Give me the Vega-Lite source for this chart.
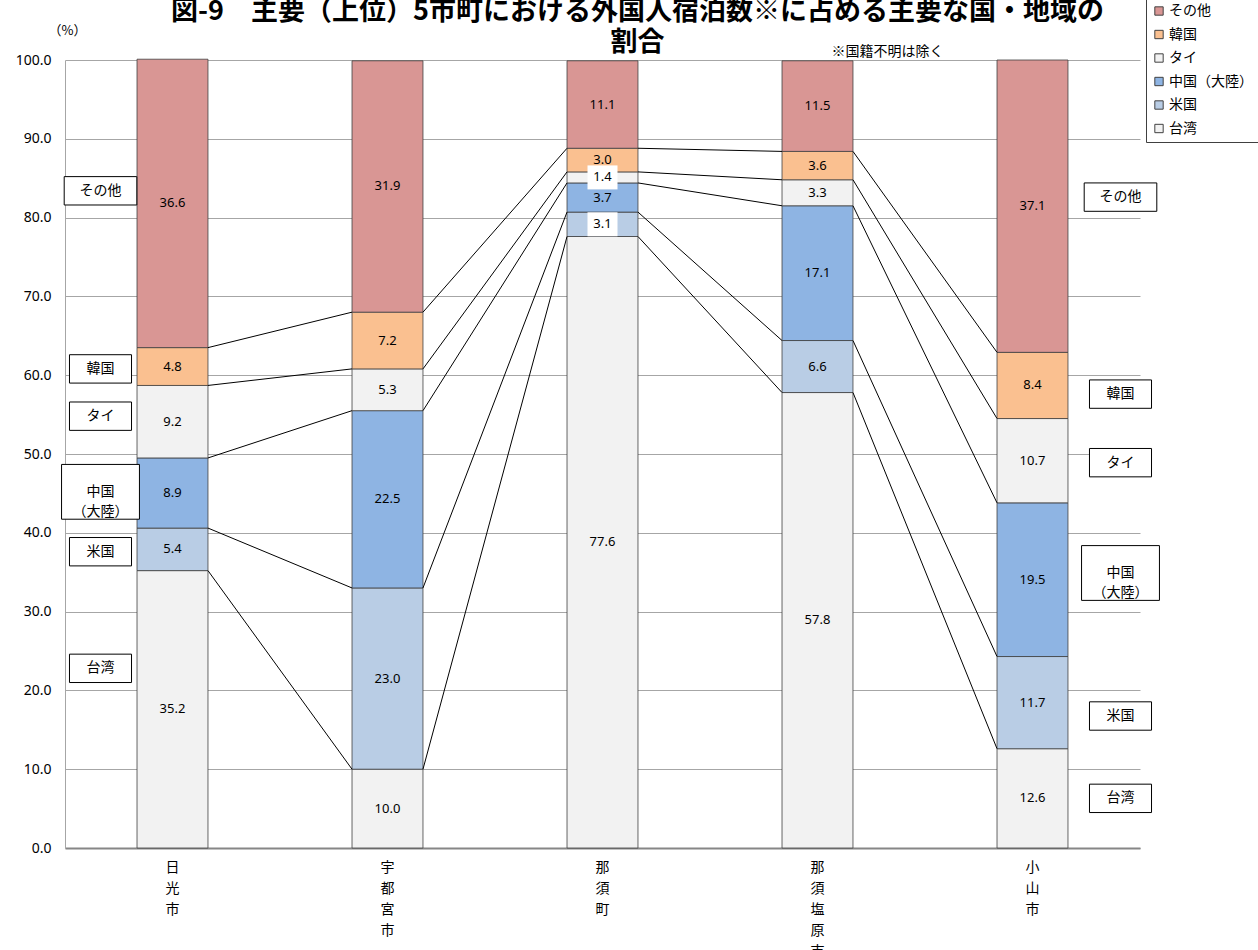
{
  "$schema": "https://vega.github.io/schema/vega-lite/v6.json",
  "width": 1075,
  "height": 788,
  "autosize": "none",
  "padding": {"left": 65, "top": 60, "right": 118, "bottom": 102},
  "background": "white",
  "config": {
    "view": {"stroke": null},
    "font": "Noto Sans CJK JP",
    "text": {"lineBreak": "\n"}
  },
  "title": {
    "text": ["図-9　主要（上位）5市町における外国人宿泊数※に占める主要な国・地域の", "割合"],
    "fontSize": 27,
    "font": "Noto Sans CJK JP",
    "fontWeight": "bold",
    "lineHeight": 31,
    "offset": 4,
    "frame": "group",
    "anchor": "middle",
    "dx": 35,
    "dy": 63,
    "color": "#000000"
  },
  "datasets": {
    "shares": [
      {"city": "日光市", "ci": 0, "series": "台湾", "si": 0, "value": 35.2},
      {"city": "日光市", "ci": 0, "series": "米国", "si": 1, "value": 5.4},
      {"city": "日光市", "ci": 0, "series": "中国（大陸）", "si": 2, "value": 8.9},
      {"city": "日光市", "ci": 0, "series": "タイ", "si": 3, "value": 9.2},
      {"city": "日光市", "ci": 0, "series": "韓国", "si": 4, "value": 4.8},
      {"city": "日光市", "ci": 0, "series": "その他", "si": 5, "value": 36.6},
      {"city": "宇都宮市", "ci": 1, "series": "台湾", "si": 0, "value": 10.0},
      {"city": "宇都宮市", "ci": 1, "series": "米国", "si": 1, "value": 23.0},
      {"city": "宇都宮市", "ci": 1, "series": "中国（大陸）", "si": 2, "value": 22.5},
      {"city": "宇都宮市", "ci": 1, "series": "タイ", "si": 3, "value": 5.3},
      {"city": "宇都宮市", "ci": 1, "series": "韓国", "si": 4, "value": 7.2},
      {"city": "宇都宮市", "ci": 1, "series": "その他", "si": 5, "value": 31.9},
      {"city": "那須町", "ci": 2, "series": "台湾", "si": 0, "value": 77.6},
      {"city": "那須町", "ci": 2, "series": "米国", "si": 1, "value": 3.1},
      {"city": "那須町", "ci": 2, "series": "中国（大陸）", "si": 2, "value": 3.7},
      {"city": "那須町", "ci": 2, "series": "タイ", "si": 3, "value": 1.4},
      {"city": "那須町", "ci": 2, "series": "韓国", "si": 4, "value": 3.0},
      {"city": "那須町", "ci": 2, "series": "その他", "si": 5, "value": 11.1},
      {"city": "那須塩原市", "ci": 3, "series": "台湾", "si": 0, "value": 57.8},
      {"city": "那須塩原市", "ci": 3, "series": "米国", "si": 1, "value": 6.6},
      {"city": "那須塩原市", "ci": 3, "series": "中国（大陸）", "si": 2, "value": 17.1},
      {"city": "那須塩原市", "ci": 3, "series": "タイ", "si": 3, "value": 3.3},
      {"city": "那須塩原市", "ci": 3, "series": "韓国", "si": 4, "value": 3.6},
      {"city": "那須塩原市", "ci": 3, "series": "その他", "si": 5, "value": 11.5},
      {"city": "小山市", "ci": 4, "series": "台湾", "si": 0, "value": 12.6},
      {"city": "小山市", "ci": 4, "series": "米国", "si": 1, "value": 11.7},
      {"city": "小山市", "ci": 4, "series": "中国（大陸）", "si": 2, "value": 19.5},
      {"city": "小山市", "ci": 4, "series": "タイ", "si": 3, "value": 10.7},
      {"city": "小山市", "ci": 4, "series": "韓国", "si": 4, "value": 8.4},
      {"city": "小山市", "ci": 4, "series": "その他", "si": 5, "value": 37.1}
    ],
    "notes": [
      {"side": "left", "city": "日光市", "label": "その他", "v": 83.4},
      {"side": "left", "city": "日光市", "label": "韓国", "v": 60.8},
      {"side": "left", "city": "日光市", "label": "タイ", "v": 54.8},
      {"side": "left", "city": "日光市", "label": "中国\n（大陸）", "v": 45.2},
      {"side": "left", "city": "日光市", "label": "米国", "v": 37.6},
      {"side": "left", "city": "日光市", "label": "台湾", "v": 22.8},
      {"side": "right", "city": "小山市", "label": "その他", "v": 82.6},
      {"side": "right", "city": "小山市", "label": "韓国", "v": 57.6},
      {"side": "right", "city": "小山市", "label": "タイ", "v": 48.9},
      {"side": "right", "city": "小山市", "label": "中国\n（大陸）", "v": 34.9},
      {"side": "right", "city": "小山市", "label": "米国", "v": 16.75},
      {"side": "right", "city": "小山市", "label": "台湾", "v": 6.3}
    ]
  },
  "layer": [
    {
      "data": {"name": "shares"},
      "transform": [
        {"stack": "value", "groupby": ["city"], "sort": [{"field": "si", "order": "ascending"}], "as": ["y0", "y1"]}
      ],
      "mark": {"type": "bar", "stroke": "#404040", "strokeWidth": 0.8},
      "encoding": {
        "x": {
          "field": "city",
          "type": "nominal",
          "sort": ["日光市", "宇都宮市", "那須町", "那須塩原市", "小山市"],
          "scale": {"paddingInner": 0.67, "paddingOuter": 0.335},
          "axis": {
            "title": null,
            "labelAngle": 0,
            "labelExpr": "split(datum.label, '')",
            "ticks": false,
            "domainColor": "#868686",
            "domainWidth": 2,
            "labelFontSize": 14,
            "labelLineHeight": 21,
            "labelPadding": 12,
            "labelBaseline": "top",
            "labelColor": "#000000",
            "labelFont": "Noto Sans CJK JP"
          }
        },
        "y": {
          "field": "y1",
          "type": "quantitative",
          "scale": {"domain": [0, 100], "nice": false},
          "axis": {
            "title": "（%）",
            "titleAngle": 0,
            "titleX": 2,
            "titleY": -30,
            "titleAlign": "center",
            "titleBaseline": "middle",
            "titleFontSize": 13,
            "titleFontWeight": "normal",
            "titleColor": "#000000",
            "format": ".1f",
            "values": [0, 10, 20, 30, 40, 50, 60, 70, 80, 90, 100],
            "grid": true,
            "gridColor": "#a6a6a6",
            "ticks": false,
            "labelPadding": 14,
            "labelFontSize": 14,
            "labelFont": "Noto Sans",
            "labelColor": "#000000",
            "domainColor": "#a6a6a6"
          }
        },
        "y2": {"field": "y0"},
        "fill": {
          "field": "series",
          "type": "nominal",
          "scale": {
            "domain": ["その他", "韓国", "タイ", "中国（大陸）", "米国", "台湾"],
            "range": ["#d99694", "#fac090", "#f2f2f2", "#8eb4e3", "#b9cde5", "#f2f2f2"]
          },
          "legend": {
            "orient": "none",
            "legendX": 1081,
            "legendY": -62,
            "title": null,
            "symbolType": "square",
            "symbolSize": 70,
            "symbolStrokeColor": "#404040",
            "symbolStrokeWidth": 1,
            "labelFontSize": 14,
            "labelFont": "Noto Sans CJK JP",
            "labelColor": "#000000",
            "rowPadding": 9.5,
            "padding": 6,
            "strokeColor": "#404040",
            "fillColor": "white",
            "labelOffset": 3
          }
        }
      }
    },
    {
      "data": {"name": "shares"},
      "transform": [
        {"stack": "value", "groupby": ["city"], "sort": [{"field": "si", "order": "ascending"}], "as": ["y0", "y1"]},
        {"window": [{"op": "lead", "field": "y1", "as": "ny1"}, {"op": "lead", "field": "city", "as": "ncity"}], "groupby": ["series"], "sort": [{"field": "ci", "order": "ascending"}]},
        {"filter": "datum.ncity != null && datum.series != 'その他'"}
      ],
      "mark": {"type": "rule", "color": "#000000", "strokeWidth": 1},
      "encoding": {
        "x": {"field": "city", "type": "nominal", "bandPosition": 1, "sort": ["日光市", "宇都宮市", "那須町", "那須塩原市", "小山市"]},
        "x2": {"field": "ncity", "bandPosition": 0},
        "y": {"field": "y1", "type": "quantitative"},
        "y2": {"field": "ny1"}
      }
    },
    {
      "data": {"name": "shares"},
      "transform": [
        {"stack": "value", "groupby": ["city"], "sort": [{"field": "si", "order": "ascending"}], "as": ["y0", "y1"]},
        {"calculate": "(datum.y0 + datum.y1) / 2", "as": "mid"},
        {"filter": "datum.city == '那須町' && (datum.series == 'タイ' || datum.series == '米国')"}
      ],
      "mark": {"type": "point", "filled": true, "fill": "white", "strokeWidth": 0, "opacity": 1, "size": 900, "shape": "M-1,-0.8H1V0.8H-1Z"},
      "encoding": {
        "x": {"field": "city", "type": "nominal", "sort": ["日光市", "宇都宮市", "那須町", "那須塩原市", "小山市"]},
        "y": {"field": "mid", "type": "quantitative"}
      }
    },
    {
      "data": {"name": "shares"},
      "transform": [
        {"stack": "value", "groupby": ["city"], "sort": [{"field": "si", "order": "ascending"}], "as": ["y0", "y1"]},
        {"calculate": "(datum.y0 + datum.y1) / 2", "as": "mid"}
      ],
      "mark": {"type": "text", "fontSize": 13, "font": "Noto Sans", "color": "#000000", "baseline": "middle"},
      "encoding": {
        "x": {"field": "city", "type": "nominal", "sort": ["日光市", "宇都宮市", "那須町", "那須塩原市", "小山市"]},
        "y": {"field": "mid", "type": "quantitative"},
        "text": {"field": "value", "type": "quantitative", "format": ".1f"}
      }
    },
    {
      "data": {"name": "notes"},
      "transform": [{"filter": "datum.side == 'left'"}],
      "mark": {"type": "point", "filled": true, "fill": "white", "stroke": "#000000", "strokeWidth": 1, "opacity": 1, "size": 4356, "xOffset": -72},
      "encoding": {
        "x": {"field": "city", "type": "nominal", "sort": ["日光市", "宇都宮市", "那須町", "那須塩原市", "小山市"]},
        "y": {"field": "v", "type": "quantitative"},
        "shape": {
          "field": "label",
          "type": "nominal",
          "scale": {
            "domain": ["その他", "韓国", "タイ", "中国\n（大陸）", "米国", "台湾"],
            "range": ["M-1.1,-0.43H1.1V0.43H-1.1Z", "M-0.94,-0.43H0.94V0.43H-0.94Z", "M-0.94,-0.43H0.94V0.43H-0.94Z", "M-1.18,-0.83H1.18V0.83H-1.18Z", "M-0.94,-0.43H0.94V0.43H-0.94Z", "M-0.94,-0.43H0.94V0.43H-0.94Z"]
          },
          "legend": null
        }
      }
    },
    {
      "data": {"name": "notes"},
      "transform": [{"filter": "datum.side == 'right'"}],
      "mark": {"type": "point", "filled": true, "fill": "white", "stroke": "#000000", "strokeWidth": 1, "opacity": 1, "size": 4356, "xOffset": 88},
      "encoding": {
        "x": {"field": "city", "type": "nominal", "sort": ["日光市", "宇都宮市", "那須町", "那須塩原市", "小山市"]},
        "y": {"field": "v", "type": "quantitative"},
        "shape": {"field": "label", "type": "nominal", "legend": null}
      }
    },
    {
      "data": {"name": "notes"},
      "transform": [{"filter": "datum.side == 'left'"}],
      "mark": {"type": "text", "fontSize": 14, "font": "Noto Sans CJK JP", "color": "#000000", "baseline": "middle", "lineHeight": 20, "xOffset": -72},
      "encoding": {
        "x": {"field": "city", "type": "nominal", "sort": ["日光市", "宇都宮市", "那須町", "那須塩原市", "小山市"]},
        "y": {"field": "v", "type": "quantitative"},
        "text": {"field": "label"}
      }
    },
    {
      "data": {"name": "notes"},
      "transform": [{"filter": "datum.side == 'right'"}],
      "mark": {"type": "text", "fontSize": 14, "font": "Noto Sans CJK JP", "color": "#000000", "baseline": "middle", "lineHeight": 20, "xOffset": 88},
      "encoding": {
        "x": {"field": "city", "type": "nominal", "sort": ["日光市", "宇都宮市", "那須町", "那須塩原市", "小山市"]},
        "y": {"field": "v", "type": "quantitative"},
        "text": {"field": "label"}
      }
    },
    {
      "data": {"values": [{"city": "那須塩原市", "v": 100, "label": "※国籍不明は除く"}]},
      "mark": {"type": "text", "fontSize": 14, "font": "Noto Sans CJK JP", "color": "#000000", "baseline": "middle", "xOffset": 70, "yOffset": -8},
      "encoding": {
        "x": {"field": "city", "type": "nominal", "sort": ["日光市", "宇都宮市", "那須町", "那須塩原市", "小山市"]},
        "y": {"field": "v", "type": "quantitative"},
        "text": {"field": "label"}
      }
    }
  ]
}
